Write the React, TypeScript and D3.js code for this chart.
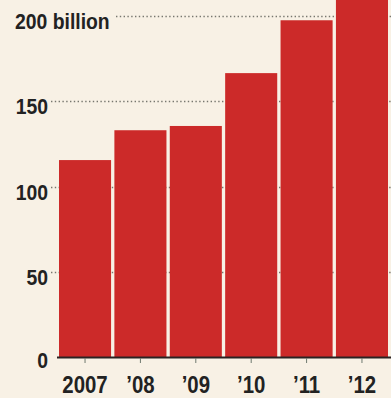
import React from "react";
import * as d3 from "d3";

const years = ["2007", "’08", "’09", "’10", "’11", "’12"];
const values = [115.5, 133, 135.5, 166.5, 197.5, 215];
const yTicks = [0, 50, 100, 150, 200];

const W = 391;
const H = 398;
const BG = "#f8f1e5";
const RED = "#cc2a29";
const FONT = "'Liberation Sans', Arial, sans-serif";

export default function App() {
  const x = d3.scaleBand<string>().domain(years).range([59, 388]).paddingInner(0.06).paddingOuter(0);
  const y = d3.scaleLinear().domain([0, 200]).range([357, 16]);

  return (
    <svg
      width={W}
      height={H}
      style={{ position: "absolute", left: 0, top: 0, background: BG }}
    >
      <rect x={0} y={0} width={W} height={H} fill={BG} />
      {yTicks.filter((t) => t > 0).map((t) => (
        <line
          key={"g" + t}
          x1={t === 200 ? 116 : 51}
          x2={W}
          y1={Math.round(y(t)) + 0.5}
          y2={Math.round(y(t)) + 0.5}
          stroke="#77776f"
          strokeWidth={1.4}
          strokeDasharray="1.4,2.4"
        />
      ))}
      {years.map((yr, i) => (
        <rect
          key={yr}
          x={x(yr)}
          y={y(values[i])}
          width={x.bandwidth()}
          height={y(0) - y(values[i])}
          fill={RED}
        />
      ))}
      <line x1={57} x2={W} y1={357.5} y2={357.5} stroke="#2a2222" strokeWidth={1.8} />
      {years.map((yr) => (
        <line
          key={"t" + yr}
          x1={x(yr)! + x.bandwidth() / 2}
          x2={x(yr)! + x.bandwidth() / 2}
          y1={358}
          y2={363}
          stroke="#6f7a70"
          strokeWidth={1}
        />
      ))}
      {yTicks.map((t) => (
        <text
          key={"l" + t}
          transform={`translate(${t === 200 ? 15 : 48},${y(t) + (t === 0 ? 11 : 13)}) scale(0.88,1)`}
          textAnchor={t === 200 ? "start" : "end"}
          fontFamily={FONT}
          fontWeight="bold"
          fontSize={22}
          fill="#222"
        >
          {t === 200 ? "200 billion" : String(t)}
        </text>
      ))}
      {years.map((yr) => (
        <text
          key={"x" + yr}
          transform={`translate(${x(yr)! + x.bandwidth() / 2},393) scale(0.85,1)`}
          textAnchor="middle"
          fontFamily={FONT}
          fontWeight="bold"
          fontSize={24}
          fill="#222"
        >
          {yr}
        </text>
      ))}
    </svg>
  );
}
